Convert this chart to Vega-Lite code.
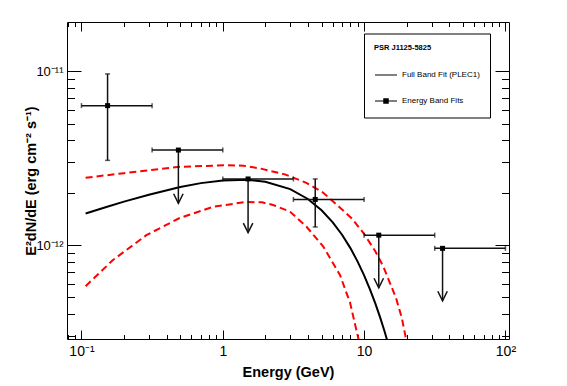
{
  "$schema": "https://vega.github.io/schema/vega-lite/v6.json",
  "width": 442,
  "height": 317,
  "autosize": "none",
  "padding": {"left": 67, "top": 22, "right": 58, "bottom": 47},
  "background": "white",
  "config": {"view": {"stroke": "black", "strokeWidth": 1}, "font": "Liberation Sans"},
  "datasets": {
    "black": [
      {"e": 0.107, "y": 1.52e-12}, {"e": 0.15, "y": 1.657e-12}, {"e": 0.2, "y": 1.777e-12}, {"e": 0.3, "y": 1.949e-12},
      {"e": 0.5, "y": 2.156e-12}, {"e": 0.7, "y": 2.271e-12}, {"e": 1, "y": 2.355e-12}, {"e": 1.5, "y": 2.373e-12},
      {"e": 2, "y": 2.315e-12}, {"e": 3, "y": 2.099e-12}, {"e": 4, "y": 1.841e-12}, {"e": 5, "y": 1.586e-12},
      {"e": 6, "y": 1.351e-12}, {"e": 7, "y": 1.142e-12}, {"e": 8, "y": 9.6e-13}, {"e": 9, "y": 8.03e-13},
      {"e": 10, "y": 6.69e-13}, {"e": 11, "y": 5.56e-13}, {"e": 12, "y": 4.62e-13}, {"e": 13, "y": 3.82e-13},
      {"e": 14, "y": 3.16e-13}, {"e": 15, "y": 2.6e-13}, {"e": 16, "y": 2.15e-13}
    ],
    "redHi": [
      {"e": 0.107, "y": 2.44e-12}, {"e": 0.2, "y": 2.59e-12}, {"e": 0.3, "y": 2.69e-12}, {"e": 0.495, "y": 2.82e-12},
      {"e": 1.06, "y": 2.88e-12}, {"e": 1.4, "y": 2.86e-12}, {"e": 1.83, "y": 2.76e-12}, {"e": 2.75, "y": 2.55e-12},
      {"e": 3.9, "y": 2.28e-12}, {"e": 5.14, "y": 2.0e-12}, {"e": 6.7, "y": 1.65e-12}, {"e": 8.2, "y": 1.42e-12},
      {"e": 10, "y": 1.16e-12}, {"e": 12, "y": 9.2e-13}, {"e": 13.7, "y": 7.5e-13}, {"e": 15.3, "y": 6.0e-13},
      {"e": 16.9, "y": 4.9e-13}, {"e": 18.5, "y": 3.8e-13}, {"e": 19.8, "y": 2.88e-13}, {"e": 21, "y": 2.2e-13}
    ],
    "redLo": [
      {"e": 0.107, "y": 5.8e-13}, {"e": 0.167, "y": 8.2e-13}, {"e": 0.288, "y": 1.14e-12}, {"e": 0.495, "y": 1.43e-12},
      {"e": 0.853, "y": 1.66e-12}, {"e": 1.47, "y": 1.77e-12}, {"e": 1.9, "y": 1.76e-12}, {"e": 2.27, "y": 1.7e-12},
      {"e": 2.98, "y": 1.56e-12}, {"e": 3.93, "y": 1.27e-12}, {"e": 5.14, "y": 9.8e-13}, {"e": 6.76, "y": 6.7e-13},
      {"e": 7.96, "y": 4.65e-13}, {"e": 9.12, "y": 2.88e-13}, {"e": 9.8, "y": 2.1e-13}
    ],
    "bins": [
      {"e": 0.153, "y": 6.34e-12, "xlo": 0.1, "xhi": 0.316, "vlo": 3.07e-12, "vhi": 9.65e-12, "ul": false},
      {"e": 0.485, "y": 3.52e-12, "xlo": 0.316, "xhi": 1.0, "vlo": 1.74e-12, "vhi": 3.52e-12, "ul": true},
      {"e": 1.51, "y": 2.4e-12, "xlo": 1.0, "xhi": 3.16, "vlo": 1.18e-12, "vhi": 2.4e-12, "ul": true},
      {"e": 4.51, "y": 1.83e-12, "xlo": 3.16, "xhi": 10.0, "vlo": 1.27e-12, "vhi": 2.4e-12, "ul": false},
      {"e": 12.7, "y": 1.14e-12, "xlo": 10.0, "xhi": 31.6, "vlo": 5.68e-13, "vhi": 1.14e-12, "ul": true},
      {"e": 35.9, "y": 9.57e-13, "xlo": 31.6, "xhi": 100, "vlo": 4.78e-13, "vhi": 9.57e-13, "ul": true}
    ],
    "legendItems": [
      {"series": "Full Band Fit (PLEC1)", "e": 1, "y": 1e-12},
      {"series": "Energy Band Fits", "e": 1, "y": 1e-12}
    ]
  },
  "resolve": {"axis": {"x": "independent", "y": "independent"}},
  "layer": [
    {
      "data": {"name": "redHi"},
      "mark": {"type": "line", "clip": true, "color": "#ff0000", "strokeWidth": 2, "strokeDash": [7, 4]},
      "encoding": {
        "x": {"field": "e", "type": "quantitative", "scale": {"type": "log", "domain": [0.079, 106], "nice": false},
          "axis": {"orient": "bottom", "values": [0.08,0.09,0.1,0.2,0.3,0.4,0.5,0.6,0.7,0.8,0.9,1,2,3,4,5,6,7,8,9,10,20,30,40,50,60,70,80,90,100],
            "domain": false, "grid": false, "tickColor": "black", "tickWidth": 1,
            "tickSize": {"condition": {"test": "datum.value == 0.1 || datum.value == 1 || datum.value == 10 || datum.value == 100", "value": -9}, "value": -4.5},
            "labelExpr": "datum.value == 0.1 ? '10⁻¹' : datum.value == 1 ? '1' : datum.value == 10 ? '10' : datum.value == 100 ? '10²' : ''",
            "labelFont": "Liberation Sans", "labelFontSize": 14, "labelColor": "black", "labelPadding": 14, "labelFlush": false, "labelOverlap": false,
            "title": "Energy (GeV)", "titleFont": "Liberation Sans", "titleFontSize": 14.5, "titleFontWeight": "bold", "titleColor": "black", "titlePadding": 3}},
        "y": {"field": "y", "type": "quantitative", "scale": {"type": "log", "domain": [2.88e-13, 1.92e-11], "nice": false},
          "axis": {"orient": "left", "values": [3e-13,4e-13,5e-13,6e-13,7e-13,8e-13,9e-13,1e-12,2e-12,3e-12,4e-12,5e-12,6e-12,7e-12,8e-12,9e-12,1e-11],
            "domain": false, "grid": false, "tickColor": "black", "tickWidth": 1,
            "tickSize": {"condition": {"test": "datum.value == 1e-11 || datum.value == 1e-12", "value": -14}, "value": -7.5},
            "labelExpr": "datum.value == 1e-11 ? '10⁻¹¹' : datum.value == 1e-12 ? '10⁻¹²' : ''",
            "labelFont": "Liberation Sans", "labelFontSize": 13, "labelColor": "black", "labelPadding": 18, "labelFlush": false, "labelOverlap": false,
            "title": "E²dN/dE (erg cm⁻² s⁻¹)", "titleFont": "Liberation Sans", "titleFontSize": 14.5, "titleFontWeight": "bold", "titleColor": "black", "titlePadding": -3}}
      }
    },
    {
      "data": {"name": "redLo"},
      "mark": {"type": "line", "clip": true, "color": "#ff0000", "strokeWidth": 2, "strokeDash": [7, 4]},
      "encoding": {
        "x": {"field": "e", "type": "quantitative", "scale": {"type": "log", "domain": [0.079, 106], "nice": false},
          "axis": {"orient": "top", "values": [0.08,0.09,0.1,0.2,0.3,0.4,0.5,0.6,0.7,0.8,0.9,1,2,3,4,5,6,7,8,9,10,20,30,40,50,60,70,80,90,100],
            "domain": false, "grid": false, "labels": false, "title": null, "tickColor": "black", "tickWidth": 1,
            "tickSize": {"condition": {"test": "datum.value == 0.1 || datum.value == 1 || datum.value == 10 || datum.value == 100", "value": -9}, "value": -4.5}}},
        "y": {"field": "y", "type": "quantitative", "scale": {"type": "log", "domain": [2.88e-13, 1.92e-11], "nice": false},
          "axis": {"orient": "right", "values": [3e-13,4e-13,5e-13,6e-13,7e-13,8e-13,9e-13,1e-12,2e-12,3e-12,4e-12,5e-12,6e-12,7e-12,8e-12,9e-12,1e-11],
            "domain": false, "grid": false, "labels": false, "title": null, "tickColor": "black", "tickWidth": 1,
            "tickSize": {"condition": {"test": "datum.value == 1e-11 || datum.value == 1e-12", "value": -14}, "value": -7.5}}}
      }
    },
    {
      "data": {"name": "black"},
      "mark": {"type": "line", "clip": true, "color": "black", "strokeWidth": 2},
      "encoding": {
        "x": {"field": "e", "type": "quantitative", "scale": {"type": "log", "domain": [0.079, 106], "nice": false}, "axis": null},
        "y": {"field": "y", "type": "quantitative", "scale": {"type": "log", "domain": [2.88e-13, 1.92e-11], "nice": false}, "axis": null}
      }
    },
    {
      "data": {"name": "bins"},
      "mark": {"type": "rule", "color": "#111", "strokeWidth": 1.5},
      "encoding": {
        "x": {"field": "xlo", "type": "quantitative", "scale": {"type": "log", "domain": [0.079, 106], "nice": false}, "axis": null},
        "x2": {"field": "xhi"},
        "y": {"field": "y", "type": "quantitative", "scale": {"type": "log", "domain": [2.88e-13, 1.92e-11], "nice": false}, "axis": null}
      }
    },
    {
      "data": {"name": "bins"},
      "mark": {"type": "rule", "color": "#111", "strokeWidth": 1.5},
      "encoding": {
        "x": {"field": "e", "type": "quantitative", "scale": {"type": "log", "domain": [0.079, 106], "nice": false}, "axis": null},
        "y": {"field": "vlo", "type": "quantitative", "scale": {"type": "log", "domain": [2.88e-13, 1.92e-11], "nice": false}, "axis": null},
        "y2": {"field": "vhi"}
      }
    },
    {
      "data": {"name": "bins"},
      "mark": {"type": "tick", "orient": "vertical", "color": "#111", "size": 5, "thickness": 1.5},
      "encoding": {
        "x": {"field": "xlo", "type": "quantitative", "scale": {"type": "log", "domain": [0.079, 106], "nice": false}, "axis": null},
        "y": {"field": "y", "type": "quantitative", "scale": {"type": "log", "domain": [2.88e-13, 1.92e-11], "nice": false}, "axis": null}
      }
    },
    {
      "data": {"name": "bins"},
      "mark": {"type": "tick", "orient": "vertical", "color": "#111", "size": 5, "thickness": 1.5},
      "encoding": {
        "x": {"field": "xhi", "type": "quantitative", "scale": {"type": "log", "domain": [0.079, 106], "nice": false}, "axis": null},
        "y": {"field": "y", "type": "quantitative", "scale": {"type": "log", "domain": [2.88e-13, 1.92e-11], "nice": false}, "axis": null}
      }
    },
    {
      "data": {"name": "bins"},
      "transform": [{"filter": "!datum.ul"}],
      "mark": {"type": "tick", "orient": "horizontal", "color": "#111", "size": 5, "thickness": 1.5},
      "encoding": {
        "x": {"field": "e", "type": "quantitative", "scale": {"type": "log", "domain": [0.079, 106], "nice": false}, "axis": null},
        "y": {"field": "vlo", "type": "quantitative", "scale": {"type": "log", "domain": [2.88e-13, 1.92e-11], "nice": false}, "axis": null}
      }
    },
    {
      "data": {"name": "bins"},
      "transform": [{"filter": "!datum.ul"}],
      "mark": {"type": "tick", "orient": "horizontal", "color": "#111", "size": 5, "thickness": 1.5},
      "encoding": {
        "x": {"field": "e", "type": "quantitative", "scale": {"type": "log", "domain": [0.079, 106], "nice": false}, "axis": null},
        "y": {"field": "vhi", "type": "quantitative", "scale": {"type": "log", "domain": [2.88e-13, 1.92e-11], "nice": false}, "axis": null}
      }
    },
    {
      "data": {"name": "bins"},
      "transform": [{"filter": "datum.ul"}],
      "mark": {"type": "point", "shape": "M-1,-2L0,0L1,-2", "filled": false, "stroke": "#111", "strokeWidth": 1.5, "size": 90, "opacity": 1},
      "encoding": {
        "x": {"field": "e", "type": "quantitative", "scale": {"type": "log", "domain": [0.079, 106], "nice": false}, "axis": null},
        "y": {"field": "vlo", "type": "quantitative", "scale": {"type": "log", "domain": [2.88e-13, 1.92e-11], "nice": false}, "axis": null}
      }
    },
    {
      "data": {"name": "bins"},
      "mark": {"type": "point", "filled": true, "shape": "square", "color": "black", "size": 25, "opacity": 1},
      "encoding": {
        "x": {"field": "e", "type": "quantitative", "scale": {"type": "log", "domain": [0.079, 106], "nice": false}, "axis": null},
        "y": {"field": "y", "type": "quantitative", "scale": {"type": "log", "domain": [2.88e-13, 1.92e-11], "nice": false}, "axis": null}
      }
    },
    {
      "data": {"name": "legendItems"},
      "mark": {"type": "point", "filled": true, "color": "black", "size": 0, "opacity": 1},
      "encoding": {
        "x": {"field": "e", "type": "quantitative", "scale": {"type": "log", "domain": [0.079, 106], "nice": false}, "axis": null},
        "y": {"field": "y", "type": "quantitative", "scale": {"type": "log", "domain": [2.88e-13, 1.92e-11], "nice": false}, "axis": null},
        "shape": {"field": "series", "type": "nominal",
          "scale": {"domain": ["Full Band Fit (PLEC1)", "Energy Band Fits"],
            "range": ["M-1,-0.045L1,-0.045L1,0.045L-1,0.045Z", "M-1,-0.045L1,-0.045L1,0.045L-1,0.045ZM-0.25,-0.25L0.25,-0.25L0.25,0.25L-0.25,0.25Z"]},
          "legend": {"orient": "none", "legendX": 297, "legendY": 11.5, "title": "PSR J1125-5825",
            "titleFont": "Liberation Sans", "titleFontSize": 7.5, "titleFontWeight": "bold", "titleColor": "black", "titlePadding": 12,
            "labelFont": "Liberation Sans", "labelFontSize": 8, "labelColor": "black", "labelOffset": 4,
            "symbolSize": 484, "padding": 10, "rowPadding": 10, "strokeColor": "black", "fillColor": "white", "cornerRadius": 0,
            "encode": {"symbols": {"update": {
              "size": {"value": 484},
              "fill": {"value": "black"}, "opacity": {"value": 1}}}}}}
      }
    }
  ]
}
